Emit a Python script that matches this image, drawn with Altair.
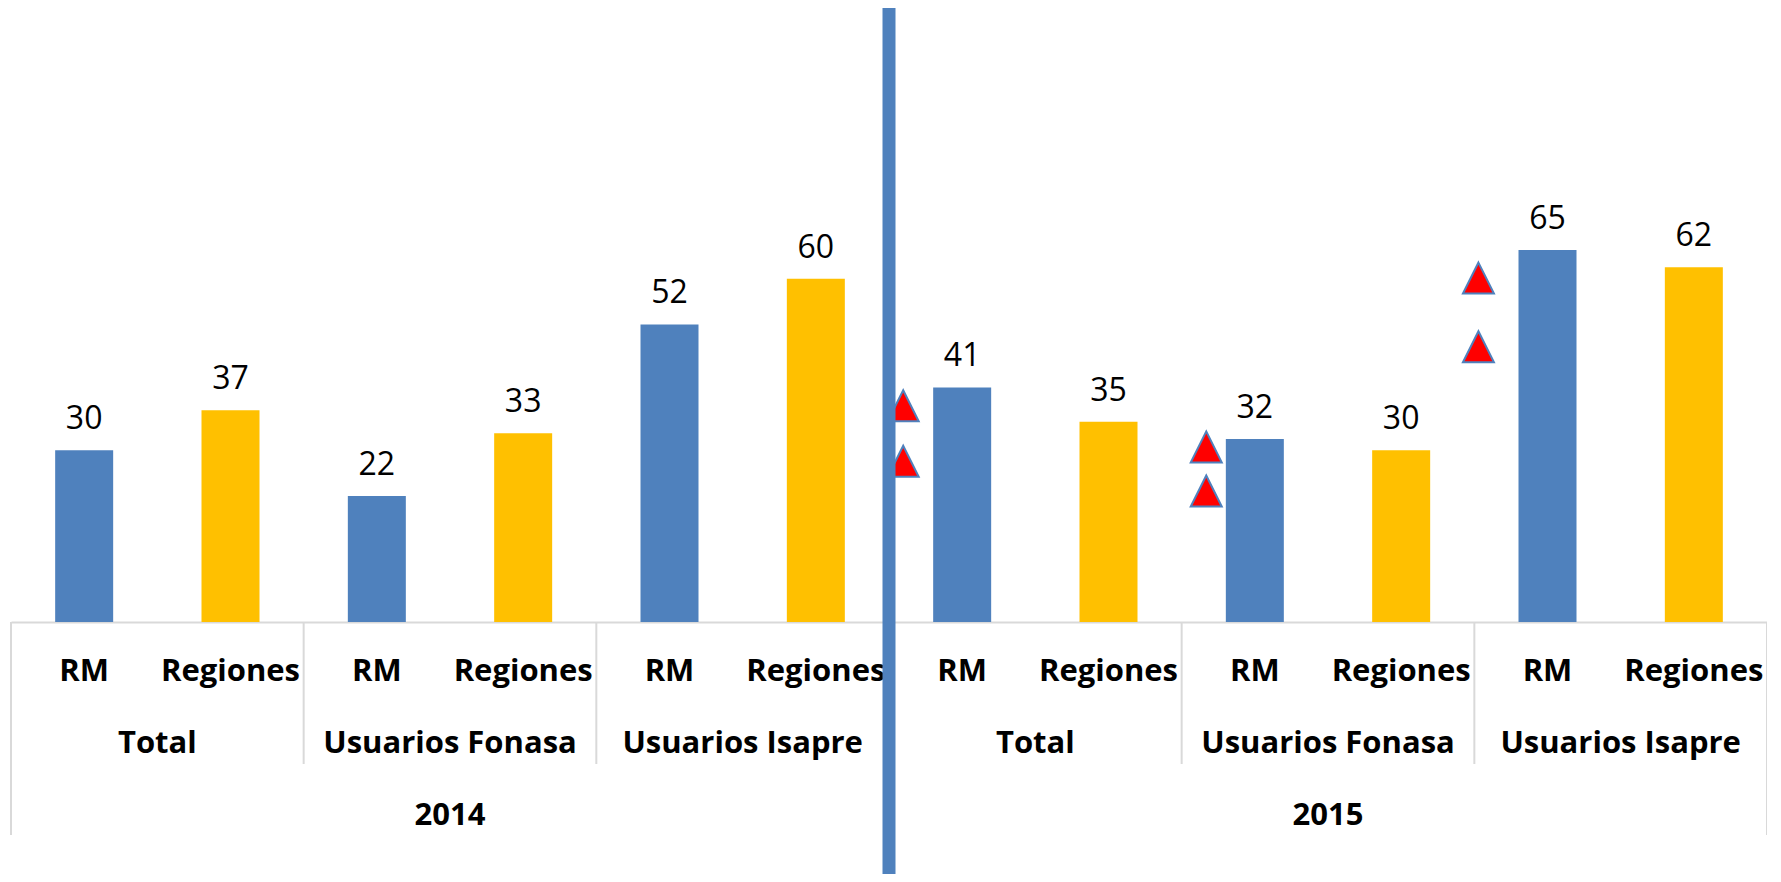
import altair as alt
import pandas as pd

# ---- data ----
years = ["2014", "2015"]
groups = ["Total", "Usuarios Fonasa", "Usuarios Isapre"]
series = ["RM", "Regiones"]
values_2014 = [30, 37, 22, 33, 52, 60]
values_2015 = [41, 35, 32, 30, 65, 62]

# significance markers (2015, next to RM bars)
tri_groups = ["Total", "Total", "Usuarios Fonasa", "Usuarios Fonasa",
              "Usuarios Isapre", "Usuarios Isapre"]
tri_values = [37.8, 28.1, 30.6, 22.9, 60.1, 48.1]

# ---- tables ----
rows = []
vals = {"2014": values_2014, "2015": values_2015}
for y in years:
    i = 0
    for g in groups:
        for s in series:
            rows.append({"year": y, "group": g, "series": s,
                         "key": f"{y}|{g}|{s}", "value": vals[y][i]})
            i += 1
df = pd.DataFrame(rows)
keys = list(df["key"])

tri_df = pd.DataFrame({"group": tri_groups, "value": tri_values})
tri_df["key"] = "2015|" + tri_df["group"] + "|RM"

year_df = pd.DataFrame({"year": years})
year_df["key"] = year_df["year"] + "|Usuarios Fonasa|Regiones"

BLUE = "#4F81BD"
GOLD = "#FFC000"
GRID = "#D9D9D9"
FONT = "Open Sans"
H = 614

xscale = alt.Scale(domain=keys, paddingInner=0, paddingOuter=0)
yscale = alt.Scale(domain=[0, 107.3], nice=False, zero=True)


def X(**kw):
    return alt.X("key:N", scale=xscale, sort=keys, **kw)


base = alt.Chart(df)

bars = base.mark_bar(size=58).encode(
    x=X(axis=alt.Axis(labels=False, ticks=False, title=None, grid=False,
                      domainColor=GRID, domainWidth=2)),
    y=alt.Y("value:Q", scale=yscale, axis=None),
    color=alt.Color("series:N", scale=alt.Scale(domain=series, range=[BLUE, GOLD]),
                    legend=None),
)

labels = base.mark_text(dy=-21, baseline="alphabetic", fontSize=32, font=FONT,
                        color="black").encode(
    x=X(), y=alt.Y("value:Q", scale=yscale), text="value:Q"
)

rm = base.transform_filter(alt.datum.series == "RM")

short_div = rm.transform_filter(alt.datum.group != "Total").mark_rule(
    color=GRID, strokeWidth=2).encode(
    x=X(bandPosition=0), y=alt.value(H), y2=alt.value(756)
)
long_div = rm.transform_filter(alt.datum.group == "Total").mark_rule(
    color=GRID, strokeWidth=2).encode(
    x=X(bandPosition=0), y=alt.value(H), y2=alt.value(827)
)
right_edge = base.transform_filter(alt.datum.key == keys[-1]).mark_rule(
    color=GRID, strokeWidth=2).encode(
    x=X(bandPosition=1), y=alt.value(H), y2=alt.value(827)
)

series_txt = base.mark_text(fontSize=31, font=FONT, fontWeight="bold",
                            baseline="alphabetic", color="black").encode(
    x=X(), y=alt.value(673), text="series:N"
)
group_txt = rm.mark_text(fontSize=31, font=FONT, fontWeight="bold",
                         baseline="alphabetic", color="black").encode(
    x=X(bandPosition=1), y=alt.value(745), text="group:N"
)
year_txt = alt.Chart(year_df).mark_text(fontSize=31, font=FONT, fontWeight="bold",
                                        baseline="alphabetic", color="black").encode(
    x=X(bandPosition=0), y=alt.value(817), text="year:N"
)

tri_bp = {"Total": 0.097, "Usuarios Fonasa": 0.168, "Usuarios Isapre": 0.028}
tri_layers = []
for g in groups:
    tri_layers.append(
        alt.Chart(tri_df).transform_filter(alt.datum.group == g).mark_point(
            shape="M0,-1L1,1L-1,1Z", size=961, filled=True, fill="#FF0000",
            stroke=BLUE, strokeWidth=2, opacity=1, fillOpacity=1, strokeOpacity=1
        ).encode(x=X(bandPosition=tri_bp[g]), y=alt.Y("value:Q", scale=yscale))
    )

sep = base.transform_filter(alt.datum.key == "2015|Total|RM").mark_rule(
    color=BLUE, strokeWidth=13).encode(
    x=X(bandPosition=0), y=alt.value(-1), y2=alt.value(880)
)

chart = alt.layer(
    bars, labels, short_div, long_div, right_edge,
    series_txt, group_txt, year_txt, *tri_layers, sep
).properties(
    width=1756, height=H,
    padding={"left": 3, "top": 0, "right": 0, "bottom": 252},
    autosize=alt.AutoSizeParams(type="none"),
).configure_view(stroke=None)

chart.save("out.html", embed_options={"renderer": "svg", "actions": False})
